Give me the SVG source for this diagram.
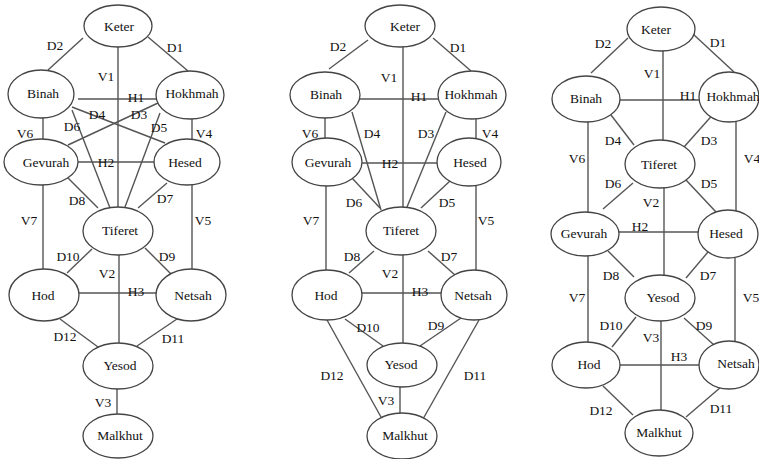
<svg xmlns="http://www.w3.org/2000/svg" width="759" height="459" viewBox="0 0 759 459">
<style>
.n ellipse{fill:#fff;stroke:#444;stroke-width:1.3}
text{font-family:"Liberation Serif","Times New Roman",serif;font-size:13.5px;fill:#111;text-anchor:middle}
.c line{stroke:#555;stroke-width:1.4}
</style>
<rect width="759" height="459" fill="#fff"/>
<g class="c" id="connectors">
<line x1="83" y1="38" x2="48" y2="70"/>
<line x1="148" y1="37" x2="188" y2="71"/>
<line x1="118" y1="47" x2="118" y2="207"/>
<line x1="78" y1="99" x2="157" y2="99"/>
<line x1="72" y1="107" x2="165" y2="143"/>
<line x1="158" y1="103" x2="68" y2="145"/>
<line x1="72" y1="110" x2="110" y2="208"/>
<line x1="160" y1="113" x2="125" y2="207"/>
<line x1="43" y1="118" x2="43" y2="139"/>
<line x1="192" y1="118" x2="192" y2="139"/>
<line x1="78" y1="162" x2="154" y2="162"/>
<line x1="68" y1="178" x2="98" y2="208"/>
<line x1="167" y1="183" x2="138" y2="208"/>
<line x1="43" y1="185" x2="43" y2="269"/>
<line x1="192" y1="185" x2="192" y2="269"/>
<line x1="92" y1="249" x2="67" y2="273"/>
<line x1="145" y1="248" x2="172" y2="275"/>
<line x1="119" y1="255" x2="119" y2="343"/>
<line x1="79" y1="293" x2="156" y2="293"/>
<line x1="60" y1="319" x2="98" y2="347"/>
<line x1="177" y1="319" x2="137" y2="346"/>
<line x1="117" y1="389" x2="117" y2="414"/>
<line x1="368" y1="40" x2="329" y2="69"/>
<line x1="433" y1="38" x2="471" y2="71"/>
<line x1="403" y1="47" x2="403" y2="207"/>
<line x1="360" y1="99" x2="439" y2="99"/>
<line x1="352" y1="112" x2="381" y2="210"/>
<line x1="446" y1="112" x2="407" y2="207"/>
<line x1="325" y1="118" x2="325" y2="138"/>
<line x1="476" y1="119" x2="476" y2="138"/>
<line x1="362" y1="163" x2="438" y2="163"/>
<line x1="352" y1="178" x2="380" y2="208"/>
<line x1="450" y1="181" x2="421" y2="208"/>
<line x1="326" y1="186" x2="326" y2="270"/>
<line x1="476" y1="186" x2="476" y2="270"/>
<line x1="374" y1="251" x2="349" y2="273"/>
<line x1="428" y1="251" x2="455" y2="275"/>
<line x1="403" y1="255" x2="403" y2="343"/>
<line x1="362" y1="293" x2="441" y2="293"/>
<line x1="345" y1="319" x2="383" y2="346"/>
<line x1="461" y1="318" x2="420" y2="346"/>
<line x1="327" y1="320" x2="381" y2="417"/>
<line x1="479" y1="320" x2="423" y2="419"/>
<line x1="400" y1="387" x2="400" y2="413"/>
<line x1="628" y1="38" x2="591" y2="73"/>
<line x1="693" y1="34" x2="734" y2="72"/>
<line x1="663" y1="51" x2="663" y2="140"/>
<line x1="620" y1="100" x2="699" y2="100"/>
<line x1="611" y1="115" x2="634" y2="145"/>
<line x1="716" y1="111" x2="684" y2="147"/>
<line x1="588" y1="122" x2="588" y2="213"/>
<line x1="736" y1="121" x2="736" y2="211"/>
<line x1="633" y1="183" x2="603" y2="209"/>
<line x1="686" y1="180" x2="716" y2="212"/>
<line x1="664" y1="188" x2="664" y2="275"/>
<line x1="619" y1="232" x2="699" y2="232"/>
<line x1="608" y1="251" x2="634" y2="277"/>
<line x1="708" y1="252" x2="686" y2="278"/>
<line x1="588" y1="256" x2="588" y2="342"/>
<line x1="735" y1="258" x2="735" y2="341"/>
<line x1="636" y1="317" x2="612" y2="347"/>
<line x1="684" y1="318" x2="714" y2="345"/>
<line x1="661" y1="321" x2="661" y2="410"/>
<line x1="620" y1="365" x2="699" y2="365"/>
<line x1="603" y1="386" x2="633" y2="415"/>
<line x1="721" y1="387" x2="686" y2="417"/>
</g>
<g id="edge-labels">
<text x="55" y="50">D2</text><text x="175" y="52">D1</text><text x="106" y="81">V1</text><text x="136" y="102">H1</text>
<text x="97" y="119">D4</text><text x="139" y="119">D3</text><text x="72" y="131">D6</text><text x="159" y="132">D5</text>
<text x="25" y="138">V6</text><text x="204" y="138">V4</text><text x="106" y="167">H2</text>
<text x="77" y="205">D8</text><text x="165" y="203">D7</text><text x="29" y="225">V7</text><text x="203" y="225">V5</text>
<text x="68" y="261">D10</text><text x="167" y="261">D9</text><text x="107" y="278">V2</text><text x="136" y="296">H3</text>
<text x="65" y="341">D12</text><text x="173" y="343">D11</text><text x="103" y="407">V3</text>
<text x="338" y="51">D2</text><text x="458" y="52">D1</text><text x="389" y="82">V1</text><text x="419" y="101">H1</text>
<text x="310" y="138">V6</text><text x="372" y="138">D4</text><text x="426" y="138">D3</text><text x="490" y="138">V4</text>
<text x="390" y="168">H2</text><text x="354" y="207">D6</text><text x="447" y="207">D5</text><text x="311" y="225">V7</text><text x="486" y="225">V5</text>
<text x="352" y="261">D8</text><text x="449" y="261">D7</text><text x="390" y="278">V2</text><text x="420" y="296">H3</text>
<text x="368" y="332">D10</text><text x="436" y="330">D9</text><text x="332" y="380">D12</text><text x="475" y="380">D11</text><text x="386" y="405">V3</text>
<text x="603" y="48">D2</text><text x="718" y="47">D1</text><text x="652" y="78">V1</text><text x="688" y="100">H1</text>
<text x="613" y="145">D4</text><text x="709" y="145">D3</text><text x="577" y="163">V6</text><text x="752" y="163">V4</text>
<text x="613" y="188">D6</text><text x="709" y="188">D5</text><text x="651" y="207">V2</text><text x="640" y="231">H2</text>
<text x="611" y="280">D8</text><text x="708" y="280">D7</text><text x="577" y="302">V7</text><text x="751" y="302">V5</text>
<text x="611" y="330">D10</text><text x="704" y="330">D9</text><text x="651" y="342">V3</text><text x="679" y="361">H3</text>
<text x="601" y="415">D12</text><text x="721" y="413">D11</text>
</g>
<g class="n" id="d1-keter"><ellipse cx="118" cy="26" rx="34" ry="21"/><text x="119" y="31">Keter</text></g>
<g class="n" id="d1-binah"><ellipse cx="41" cy="94" rx="33" ry="24"/><text x="43" y="98">Binah</text></g>
<g class="n" id="d1-hokhmah"><ellipse cx="190" cy="95" rx="34" ry="24"/><text x="192" y="98">Hokhmah</text></g>
<g class="n" id="d1-gevurah"><ellipse cx="41" cy="162" rx="37" ry="23"/><text x="46" y="167">Gevurah</text></g>
<g class="n" id="d1-hesed"><ellipse cx="187" cy="162" rx="33" ry="23"/><text x="185" y="167">Hesed</text></g>
<g class="n" id="d1-tiferet"><ellipse cx="118" cy="231" rx="35" ry="24"/><text x="120" y="235">Tiferet</text></g>
<g class="n" id="d1-hod"><ellipse cx="44" cy="295" rx="35" ry="26"/><text x="43" y="300">Hod</text></g>
<g class="n" id="d1-netsah"><ellipse cx="191" cy="295" rx="35" ry="26"/><text x="193" y="300">Netsah</text></g>
<g class="n" id="d1-yesod"><ellipse cx="118" cy="366" rx="35" ry="23"/><text x="120" y="370">Yesod</text></g>
<g class="n" id="d1-malkhut"><ellipse cx="118" cy="436" rx="35" ry="22"/><text x="120" y="440">Malkhut</text></g>
<g class="n" id="d2-keter"><ellipse cx="400" cy="26" rx="35" ry="21"/><text x="405" y="31">Keter</text></g>
<g class="n" id="d2-binah"><ellipse cx="325" cy="95" rx="35" ry="23"/><text x="326" y="99">Binah</text></g>
<g class="n" id="d2-hokhmah"><ellipse cx="472" cy="95" rx="34" ry="24"/><text x="471" y="99">Hokhmah</text></g>
<g class="n" id="d2-gevurah"><ellipse cx="327" cy="162" rx="35" ry="24"/><text x="328" y="167">Gevurah</text></g>
<g class="n" id="d2-hesed"><ellipse cx="469" cy="162" rx="32" ry="24"/><text x="470" y="167">Hesed</text></g>
<g class="n" id="d2-tiferet"><ellipse cx="401" cy="231" rx="35" ry="24"/><text x="401" y="235">Tiferet</text></g>
<g class="n" id="d2-hod"><ellipse cx="327" cy="295" rx="35" ry="25"/><text x="326" y="300">Hod</text></g>
<g class="n" id="d2-netsah"><ellipse cx="474" cy="295" rx="33" ry="25"/><text x="473" y="300">Netsah</text></g>
<g class="n" id="d2-yesod"><ellipse cx="402" cy="365" rx="35" ry="22"/><text x="401" y="369">Yesod</text></g>
<g class="n" id="d2-malkhut"><ellipse cx="402" cy="436" rx="35" ry="23"/><text x="405" y="440">Malkhut</text></g>
<g class="n" id="d3-keter"><ellipse cx="661" cy="29" rx="34" ry="22"/><text x="656" y="34">Keter</text></g>
<g class="n" id="d3-binah"><ellipse cx="586" cy="99" rx="34" ry="23"/><text x="586" y="103">Binah</text></g>
<g class="n" id="d3-hokhmah"><ellipse cx="729" cy="97" rx="30" ry="25"/><text x="733" y="101">Hokhmah</text></g>
<g class="n" id="d3-tiferet"><ellipse cx="660" cy="164" rx="35" ry="24"/><text x="659" y="169">Tiferet</text></g>
<g class="n" id="d3-gevurah"><ellipse cx="585" cy="234" rx="34" ry="22"/><text x="584" y="238">Gevurah</text></g>
<g class="n" id="d3-hesed"><ellipse cx="728" cy="234" rx="30" ry="24"/><text x="726" y="238">Hesed</text></g>
<g class="n" id="d3-yesod"><ellipse cx="660" cy="298" rx="35" ry="23"/><text x="663" y="302">Yesod</text></g>
<g class="n" id="d3-hod"><ellipse cx="586" cy="365" rx="34" ry="23"/><text x="589" y="369">Hod</text></g>
<g class="n" id="d3-netsah"><ellipse cx="729" cy="365" rx="30" ry="24"/><text x="736" y="368">Netsah</text></g>
<g class="n" id="d3-malkhut"><ellipse cx="659" cy="433" rx="34" ry="23"/><text x="659" y="437">Malkhut</text></g>
</svg>
